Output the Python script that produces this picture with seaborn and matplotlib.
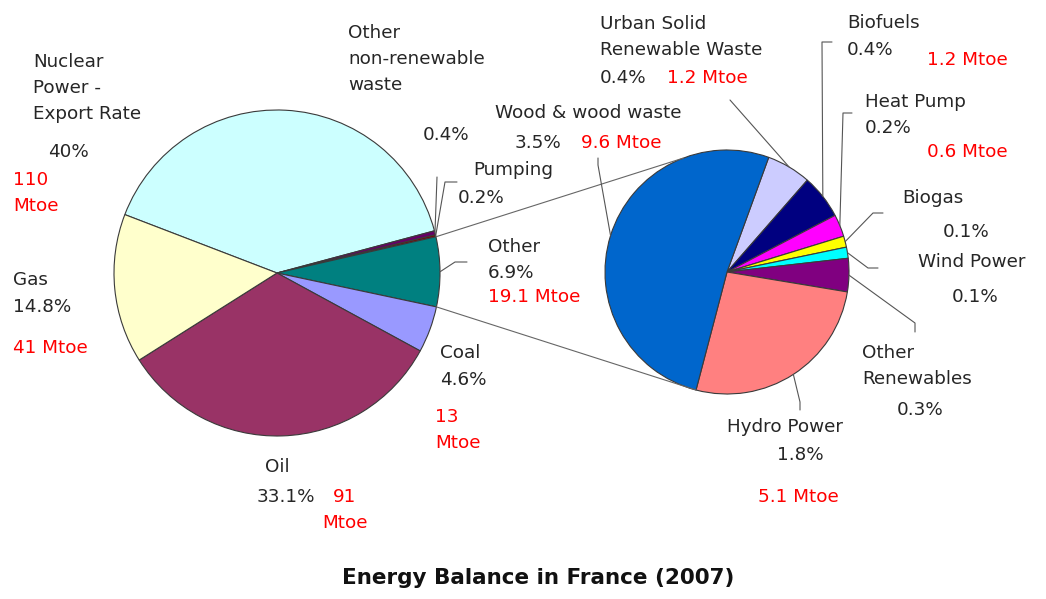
import numpy as np
import matplotlib
matplotlib.use("Agg")
import matplotlib.pyplot as plt
import seaborn as sns

# ---- data ----
main_names = ["Nuclear\nPower -\nExport Rate", "Other\nnon-renewable\nwaste", "Pumping",
              "Other", "Coal", "Oil", "Gas"]
main_share = [40, 0.4, 0.2, 6.9, 4.6, 33.1, 14.8]
main_mtoe = [110, None, None, 19.1, 13, 91, 41]

sub_names = ["Urban Solid\nRenewable Waste", "Biofuels", "Heat Pump", "Biogas", "Wind Power",
             "Other\nRenewables", "Hydro Power", "Wood & wood waste"]
sub_share = [0.4, 0.4, 0.2, 0.1, 0.1, 0.3, 1.8, 3.5]
sub_mtoe = [1.2, 1.2, 0.6, None, None, None, 5.1, 9.6]

main_colors = sns.color_palette(["#CCFFFF", "#660066", "#800000", "#008080",
                                 "#9999FF", "#993366", "#FFFFCC"])
sub_colors = sns.color_palette(["#CCCCFF", "#000080", "#FF00FF", "#FFFF00",
                                "#00FFFF", "#800080", "#FF8080", "#0066CC"])

sns.set_theme(style="white")
plt.rcParams['font.family'] = ['DejaVu Sans']

W, H = 1046, 599
FS = 13.2
LS = 1.6
DARK = "#262626"
RED = "#FF0000"

fig = plt.figure(figsize=(W / 100, H / 100), dpi=100)
ax = fig.add_axes([0, 0, 1, 1])

# pie centres / radii in pixel terms (y measured from top)
mc, mr = (277, 273), 163
sc, sr = (727, 272), 122
edge = dict(edgecolor="#3a3a3a", linewidth=0.8)

mw, _ = ax.pie(main_share, colors=main_colors, startangle=159, counterclock=False,
               center=(mc[0], H - mc[1]), radius=mr, wedgeprops=edge)
sw, _ = ax.pie(sub_share, colors=sub_colors, startangle=70, counterclock=False,
               center=(sc[0], H - sc[1]), radius=sr, wedgeprops=edge)

ax.set_xlim(0, W)
ax.set_ylim(0, H)
ax.set_aspect("equal")
ax.axis("off")


def pt(c, r, deg):
    a = np.deg2rad(deg)
    return c[0] + r * np.cos(a), H - c[1] + r * np.sin(a)


def mid(w):
    return (w.theta1 + w.theta2) / 2


# connector lines between the pies
other = mw[3]
wood = sw[7]
p1 = pt(mc, mr, other.theta2)
p2 = pt(sc, sr, 111)
q1 = pt(mc, mr, other.theta1)
q2 = pt(sc, sr, wood.theta2)
ax.plot([p1[0], p2[0]], [p1[1], p2[1]], color="#666666", lw=0.8)
ax.plot([q1[0], q2[0]], [q1[1], q2[1]], color="#666666", lw=0.8)


def put(x, y, s, color=DARK, ha="left", **kw):
    ax.text(x, H - y, s, ha=ha, va="center", color=color, fontsize=FS,
            linespacing=LS, **kw)


def fmt_pct(v):
    return f"{v:g}%"


# label layout: name pos, pct pos, mtoe pos (+ wrap flag)
main_layout = [
    dict(name=(33, 88), pct=(48, 152), mtoe=(13, 193, True)),
    dict(name=(348, 59), pct=(423, 135)),
    dict(name=(473, 170), pct=(458, 198)),
    dict(name=(488, 247), pct=(488, 273), mtoe=(488, 297, False)),
    dict(name=(440, 353), pct=(440, 380), mtoe=(435, 430, True)),
    dict(name=(277, 467, "center"), pct=(257, 497), mtoe=(345, 510, True, "center")),
    dict(name=(13, 280), pct=(13, 307), mtoe=(13, 348, False)),
]
sub_layout = [
    dict(name=(600, 37), pct=(600, 78), mtoe=(667, 78, False)),
    dict(name=(847, 23), pct=(847, 50), mtoe=(927, 60, False)),
    dict(name=(865, 102), pct=(865, 128), mtoe=(927, 152, False)),
    dict(name=(902, 198), pct=(943, 232)),
    dict(name=(918, 262), pct=(952, 297)),
    dict(name=(862, 366), pct=(897, 410)),
    dict(name=(727, 427), pct=(800, 455, "center"), mtoe=(758, 497, False)),
    dict(name=(495, 113), pct=(515, 143), mtoe=(581, 143, False)),
]


def draw_labels(names, shares, mtoes, layout):
    for nm, sh, mt, lay in zip(names, shares, mtoes, layout):
        n = lay["name"]
        put(n[0], n[1], nm, ha=n[2] if len(n) > 2 else "left",
            multialignment="left")
        p = lay["pct"]
        put(p[0], p[1], fmt_pct(sh), ha=p[2] if len(p) > 2 else "left")
        if mt is not None and "mtoe" in lay:
            m = lay["mtoe"]
            txt = f"{mt:g}\nMtoe" if m[2] else f"{mt:g} Mtoe"
            ha = m[3] if len(m) > 3 else "left"
            put(m[0], m[1], txt, color=RED, ha=ha, multialignment=ha)


draw_labels(main_names, main_share, main_mtoe, main_layout)
draw_labels(sub_names, sub_share, sub_mtoe, sub_layout)

# leader lines (anchor on wedge edge, then elbow points in pixel coords)
main_leaders = {1: [(437, 177)], 2: [(445, 182), (457, 182)], 3: [(455, 262), (467, 262)]}
sub_leaders = {0: [(730, 100)], 1: [(822, 42), (832, 42)], 2: [(843, 113), (852, 113)],
               3: [(873, 213), (883, 213)], 4: [(868, 268), (878, 268)],
               5: [(915, 323), (915, 332)], 6: [(800, 402), (800, 410)],
               7: [(598, 165), (598, 158)]}

for wedges, c, r, leaders in [(mw, mc, mr, main_leaders), (sw, sc, sr, sub_leaders)]:
    for i, pts in leaders.items():
        a = pt(c, r, mid(wedges[i]))
        xs = [a[0]] + [p[0] for p in pts]
        ys = [a[1]] + [H - p[1] for p in pts]
        ax.plot(xs, ys, color="#555555", lw=0.8)

ax.text(538, H - 578, "Energy Balance in France (2007)", ha="center", va="center",
        fontsize=15.5, fontweight="bold", color="#111111")

fig.savefig("out.png", dpi=100)
